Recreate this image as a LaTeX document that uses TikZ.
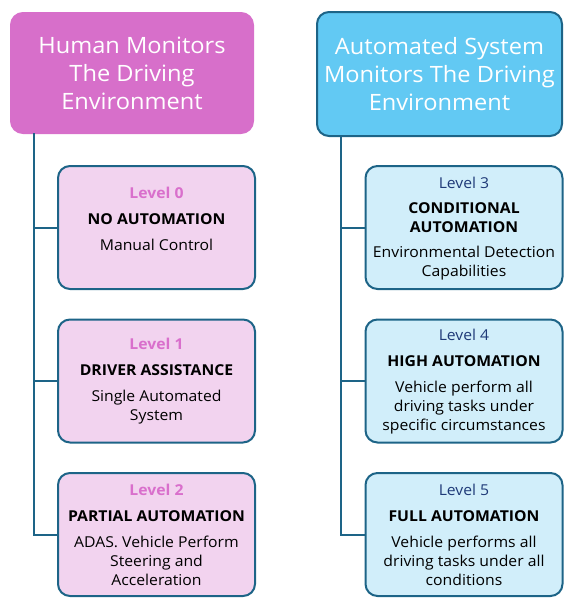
\documentclass[tikz,border=0pt]{standalone}
\usepackage{fontspec}
\setmainfont[FakeStretch=1.05]{Open Sans}
\definecolor{pinkhead}{HTML}{D76FCA}
\definecolor{bluehead}{HTML}{62C9F3}
\definecolor{edge}{HTML}{1D6487}
\definecolor{pinkbox}{HTML}{F2D3EF}
\definecolor{bluebox}{HTML}{D1EEFA}
\definecolor{pinklevel}{HTML}{D96FCC}
\definecolor{bluelevel}{HTML}{1F3A78}
\begin{document}
\begin{tikzpicture}[x=1pt,y=-1pt,
  head/.style={draw=#1, fill=#1, rounded corners=12pt, line width=2pt, inner sep=0pt,
    text=white, align=center, font=\fontsize{22.5}{28}\selectfont},
  card/.style={draw=edge, fill=#1, rounded corners=12pt, line width=2pt, inner sep=0pt,
    minimum width=197pt, minimum height=123pt},
  txt/.style={align=center, inner sep=0pt, font=\fontsize{15}{19}\selectfont, text=black},
  conn/.style={draw=edge, line width=2pt}
]
\useasboundingbox (0,0) rectangle (582,616);
% headers
\node[head=pinkhead, minimum width=242pt, minimum height=120pt] (hL) at (132,73)
  {Human Monitors\\The Driving\\Environment};
\node[head=bluehead, draw=edge, minimum width=245pt, minimum height=124pt] (hR) at (439.5,74)
  {Automated System\\Monitors The Driving\\Environment};
% left cards
\node[card=pinkbox] (b0) at (156.5,227.5) {};
\node[card=pinkbox] (b1) at (156.5,381) {};
\node[card=pinkbox] (b2) at (156.5,534.5) {};
% right cards
\node[card=bluebox] (b3) at (464,227.5) {};
\node[card=bluebox] (b4) at (464,381) {};
\node[card=bluebox] (b5) at (464,534.5) {};
% texts
\newcommand{\lvlP}[1]{\textcolor{pinklevel}{\bfseries #1}}
\newcommand{\lvlB}[1]{\textcolor{bluelevel}{#1}}
\newcommand{\ttlx}[1]{{\bfseries #1}}
\node[txt] (t0) at (156.5,218.5) {\lvlP{Level 0}\\[7pt]\ttlx{NO AUTOMATION}\\[7pt]Manual Control};
\node[txt] (t1) at (156.5,381.5) {\lvlP{Level 1}\\[7pt]\ttlx{DRIVER ASSISTANCE}\\[7pt]Single Automated\\System};
\node[txt] (t2) at (156.5,535) {\lvlP{Level 2}\\[7pt]\ttlx{PARTIAL AUTOMATION}\\[7pt]ADAS. Vehicle Perform\\Steering and\\Acceleration};
\node[txt] (t3) at (464,229) {\lvlB{Level 3}\\[6pt]\ttlx{CONDITIONAL}\\\ttlx{AUTOMATION}\\[6pt]Environmental Detection\\Capabilities};
\node[txt] (t4) at (464,381.5) {\lvlB{Level 4}\\[7pt]\ttlx{HIGH AUTOMATION}\\[7pt]Vehicle perform all\\driving tasks under\\specific circumstances};
\node[txt] (t5) at (464,535) {\lvlB{Level 5}\\[7pt]\ttlx{FULL AUTOMATION}\\[7pt]Vehicle performs all\\driving tasks under all\\conditions};
% connectors
\coordinate (tl) at (34,133);
\coordinate (tr) at (341,136);
\draw[conn] (tl) |- (b0.west);
\draw[conn] (tl) |- (b1.west);
\draw[conn] (tl) |- (b2.west);
\draw[conn] (tr) |- (b3.west);
\draw[conn] (tr) |- (b4.west);
\draw[conn] (tr) |- (b5.west);
\end{tikzpicture}
\end{document}
